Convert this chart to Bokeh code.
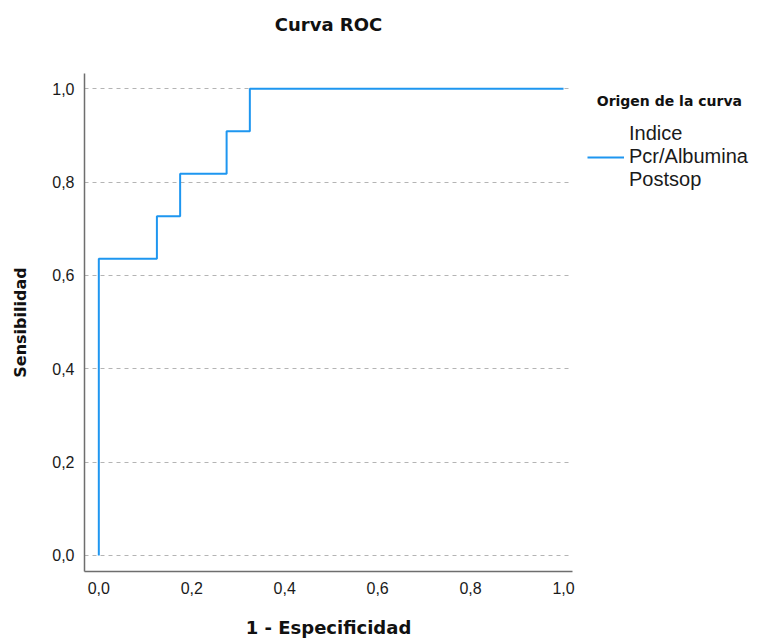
from bokeh.plotting import figure
from bokeh.models import (Range1d, Legend, LegendItem, FixedTicker, Title,
                          CustomJSTickFormatter)
from bokeh.embed import file_html
from bokeh.resources import INLINE

# ---- data (ROC points) ----
fpr = [0.0, 0.0, 0.125, 0.175, 0.275, 0.325, 1.0]
tpr = [0.0, 0.636, 0.727, 0.818, 0.909, 1.0, 1.0]
x_ticks = [0.0, 0.2, 0.4, 0.6, 0.8, 1.0]
y_ticks = [0.0, 0.2, 0.4, 0.6, 0.8, 1.0]
title_text = "Curva ROC"
x_label = "1 - Especificidad"
y_label = "Sensibilidad"
legend_title = "Origen de la curva"
series_lines = ["Indice", "Pcr/Albumina", "Postsop"]

BLUE = "#1e96f0"

p = figure(frame_width=488, frame_height=498, output_backend="svg",
           toolbar_location=None,
           x_range=Range1d(-0.0308, 1.0193), y_range=Range1d(-0.0343, 1.0328),
           min_border_left=84, min_border_right=186, min_border_top=73,
           min_border_bottom=69)
p.outline_line_color = None
p.background_fill_color = "white"
p.border_fill_color = "white"
p.xgrid.grid_line_color = None
p.ygrid.grid_line_color = "#b4b4b4"
p.ygrid.grid_line_dash = "4 4"
p.ygrid.grid_line_width = 1
p.ygrid.ticker = FixedTicker(ticks=y_ticks)

r = p.step(fpr, tpr, mode="after", line_color=BLUE, line_width=2)

for ax, ticks in ((p.xaxis[0], x_ticks), (p.yaxis[0], y_ticks)):
    ax.ticker = FixedTicker(ticks=ticks)
    ax.formatter = CustomJSTickFormatter(code="return tick.toFixed(1).replace('.', ',');")
    ax.major_tick_line_color = None
    ax.minor_tick_line_color = None
    ax.major_tick_in = 0
    ax.major_tick_out = 0
    ax.minor_tick_in = 0
    ax.minor_tick_out = 0
    ax.axis_line_color = "#6e6e6e"
    ax.axis_line_width = 1.5
    ax.major_label_text_font = "Liberation Sans"
    ax.major_label_text_font_size = "16px"
    ax.major_label_text_color = "#1a1a1a"
    ax.axis_label_text_font = "DejaVu Sans"
    ax.axis_label_text_font_style = "bold"
    ax.axis_label_text_color = "#111111"

p.xaxis.axis_label = x_label
p.yaxis.axis_label = y_label
p.xaxis.axis_label_text_font_size = "18px"
p.yaxis.axis_label_text_font_size = "16px"
p.xaxis.major_label_standoff = 10
p.xaxis.axis_label_standoff = 20
p.yaxis.major_label_standoff = 10
p.yaxis.axis_label_standoff = 19

# title: a blank spacer next to the frame, then the visible title above it
p.title.text = ""
spacer = Title(text="\u00a0", text_font="DejaVu Sans", text_font_size="16px",
               standoff=7)
main_title = Title(text=title_text, align="center", offset=3,
                   text_font="DejaVu Sans", text_font_style="bold",
                   text_font_size="18px", text_color="#111111", standoff=22)
p.add_layout(spacer, "above")
p.add_layout(main_title, "above")

# legend (right panel)
items = [LegendItem(label="\n".join(series_lines), renderers=[r])]
legend = Legend(items=items, title="\u00a0\u00a0" + legend_title,
                location=(15, 380), glyph_width=37, glyph_height=20,
                label_height=20, label_standoff=5, padding=0, margin=0, spacing=0,
                title_standoff=13,
                border_line_color=None, background_fill_alpha=0,
                title_text_font="DejaVu Sans", title_text_font_style="bold",
                title_text_font_size="14px", title_text_color="#111111",
                label_text_font="Liberation Sans", label_text_font_size="20px",
                label_text_color="#1a1a1a")
p.add_layout(legend, "right")

open("out.html", "w").write(file_html(p, INLINE))
